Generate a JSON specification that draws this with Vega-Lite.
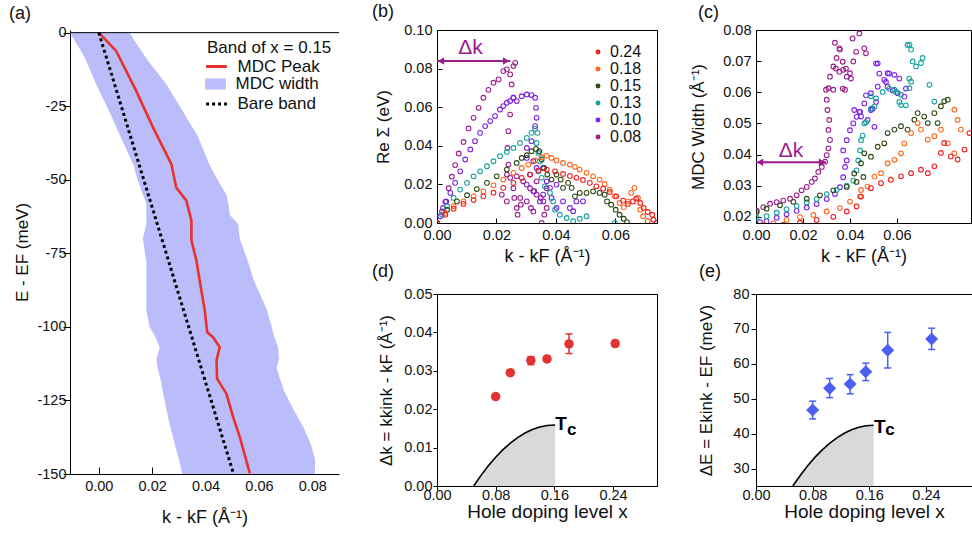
{
"$schema": "https://vega.github.io/schema/vega-lite/v6.json",
"padding": {"left": 9, "top": 2, "right": 0, "bottom": 0},
"background": "white",
"config": {
 "font": "Liberation Sans",
 "view": {"stroke": "#000", "strokeWidth": 1},
 "axis": {"labelFont": "Liberation Sans", "titleFont": "Liberation Sans", "labelFontSize": 14.5, "titleFontSize": 18, "titleFontWeight": "normal", "labelColor": "#111", "titleColor": "#111", "tickColor": "#000", "domainColor": "#000", "grid": false, "labelFlush": false, "labelOverlap": false, "tickCount": 20},
 "legend": {"labelFont": "Liberation Sans", "titleFont": "Liberation Sans", "labelColor": "#111", "titleColor": "#111", "titleFontWeight": "normal", "padding": 0},
 "title": {"font": "Liberation Sans", "fontSize": 18, "fontWeight": "normal", "anchor": "start", "frame": "group", "color": "#111", "baseline": "alphabetic"}
},
"datasets": {
 "band": [
  {"s":"MDC width","E":0,"lo":-0.0108,"hi":0.0115},{"s":"MDC width","E":-5,"lo":-0.0075,"hi":0.015},{"s":"MDC width","E":-9,"lo":-0.005,"hi":0.018},{"s":"MDC width","E":-17.5,"lo":-0.001,"hi":0.0253},{"s":"MDC width","E":-26,"lo":0.0035,"hi":0.031},{"s":"MDC width","E":-35,"lo":0.008,"hi":0.037},{"s":"MDC width","E":-45,"lo":0.013,"hi":0.0415},{"s":"MDC width","E":-50,"lo":0.0145,"hi":0.0445},{"s":"MDC width","E":-55,"lo":0.0165,"hi":0.0478},{"s":"MDC width","E":-58,"lo":0.0178,"hi":0.0485},{"s":"MDC width","E":-62,"lo":0.0178,"hi":0.0491},{"s":"MDC width","E":-65,"lo":0.0178,"hi":0.0522},{"s":"MDC width","E":-70,"lo":0.0165,"hi":0.0528},{"s":"MDC width","E":-78,"lo":0.0178,"hi":0.056},{"s":"MDC width","E":-84,"lo":0.0178,"hi":0.058},{"s":"MDC width","E":-94,"lo":0.0178,"hi":0.0629},{"s":"MDC width","E":-100,"lo":0.019,"hi":0.0648},{"s":"MDC width","E":-103,"lo":0.021,"hi":0.0656},{"s":"MDC width","E":-107,"lo":0.0228,"hi":0.0672},{"s":"MDC width","E":-111,"lo":0.0216,"hi":0.0675},{"s":"MDC width","E":-114,"lo":0.022,"hi":0.0666},{"s":"MDC width","E":-118,"lo":0.0232,"hi":0.068},{"s":"MDC width","E":-122,"lo":0.024,"hi":0.0695},{"s":"MDC width","E":-128,"lo":0.0253,"hi":0.0729},{"s":"MDC width","E":-134,"lo":0.0268,"hi":0.0766},{"s":"MDC width","E":-140,"lo":0.0285,"hi":0.0795},{"s":"MDC width","E":-145,"lo":0.03,"hi":0.081},{"s":"MDC width","E":-150,"lo":0.0313,"hi":0.081}
 ],
 "peak": [
  {"s":"MDC Peak","k":0,"E":0},{"s":"MDC Peak","k":0.0065,"E":-6.2},{"s":"MDC Peak","k":0.014,"E":-19.8},{"s":"MDC Peak","k":0.0203,"E":-32.2},{"s":"MDC Peak","k":0.0272,"E":-44.7},{"s":"MDC Peak","k":0.029,"E":-52.6},{"s":"MDC Peak","k":0.0328,"E":-57.1},{"s":"MDC Peak","k":0.0347,"E":-63.9},{"s":"MDC Peak","k":0.0347,"E":-70.7},{"s":"MDC Peak","k":0.0366,"E":-77.5},{"s":"MDC Peak","k":0.0378,"E":-84.3},{"s":"MDC Peak","k":0.0397,"E":-94.4},{"s":"MDC Peak","k":0.0406,"E":-101.8},{"s":"MDC Peak","k":0.0428,"E":-103.5},{"s":"MDC Peak","k":0.0453,"E":-106.9},{"s":"MDC Peak","k":0.0441,"E":-111.4},{"s":"MDC Peak","k":0.0443,"E":-117.6},{"s":"MDC Peak","k":0.0478,"E":-122.7},{"s":"MDC Peak","k":0.0503,"E":-130.6},{"s":"MDC Peak","k":0.0528,"E":-137.4},{"s":"MDC Peak","k":0.0566,"E":-149.8}
 ],
 "bare": [
  {"s":"Bare band","k":0,"E":0},{"s":"Bare band","k":0.0505,"E":-150}
 ],
 "sigma": [
  {"d":"0.08","k":0,"v":0},{"d":"0.08","k":0.0017,"v":0.006},{"d":"0.08","k":0.0028,"v":0.011},{"d":"0.08","k":0.0039,"v":0.018},{"d":"0.08","k":0.005,"v":0.024},{"d":"0.08","k":0.0061,"v":0.03},{"d":"0.08","k":0.0073,"v":0.036},{"d":"0.08","k":0.0089,"v":0.042},{"d":"0.08","k":0.0106,"v":0.049},{"d":"0.08","k":0.0123,"v":0.0545},{"d":"0.08","k":0.014,"v":0.0597},{"d":"0.08","k":0.0156,"v":0.0649},{"d":"0.08","k":0.0173,"v":0.069},{"d":"0.08","k":0.019,"v":0.0727},{"d":"0.08","k":0.0207,"v":0.0744},{"d":"0.08","k":0.0223,"v":0.0787},{"d":"0.08","k":0.0235,"v":0.0796},{"d":"0.08","k":0.0246,"v":0.077},{"d":"0.08","k":0.0257,"v":0.0813},{"d":"0.08","k":0.0263,"v":0.083},{"d":"0.08","k":0.0251,"v":0.0718},{"d":"0.08","k":0.0257,"v":0.0649},{"d":"0.08","k":0.0246,"v":0.0562},{"d":"0.08","k":0.024,"v":0.0476},{"d":"0.08","k":0.0237,"v":0.0389},{"d":"0.08","k":0.024,"v":0.0303},{"d":"0.08","k":0.0235,"v":0.0251},{"d":"0.08","k":0.0246,"v":0.0234},{"d":"0.08","k":0.0268,"v":0.0242},{"d":"0.08","k":0.0257,"v":0.018},{"d":"0.08","k":0.028,"v":0.013},{"d":"0.08","k":0.0268,"v":0.0078},{"d":"0.08","k":0.0302,"v":0.0112},{"d":"0.08","k":0.0324,"v":0.006},{"d":"0.08","k":0.0313,"v":0.018},{"d":"0.08","k":0.0335,"v":0.0147},{"d":"0.08","k":0.0358,"v":0.0112},{"d":"0.08","k":0.029,"v":0.0216},{"d":"0.08","k":0.0335,"v":0.0216},{"d":"0.08","k":0.0369,"v":0.018},{"d":"0.08","k":0.0369,"v":0.0078},{"d":"0.08","k":0.0352,"v":0},{"d":"0.08","k":0.0235,"v":0.0112},{"d":"0.08","k":0.0218,"v":0.0147},{"d":"0.08","k":0.026,"v":0.013},{"d":"0.08","k":0.0282,"v":0.0095},{"d":"0.08","k":0.0316,"v":0.0078},{"d":"0.08","k":0.0327,"v":0.0165},{"d":"0.08","k":0.0349,"v":0.013},{"d":"0.08","k":0.0361,"v":0.0043},{"d":"0.08","k":0.0271,"v":0.0043},
  {"d":"0.10","k":0,"v":0},{"d":"0.10","k":0.0011,"v":0.0035},{"d":"0.10","k":0.002,"v":0.0078},{"d":"0.10","k":0.0031,"v":0.0112},{"d":"0.10","k":0.0045,"v":0.0156},{"d":"0.10","k":0.0061,"v":0.0208},{"d":"0.10","k":0.0078,"v":0.0268},{"d":"0.10","k":0.0095,"v":0.0329},{"d":"0.10","k":0.0112,"v":0.0381},{"d":"0.10","k":0.0128,"v":0.0424},{"d":"0.10","k":0.0145,"v":0.0467},{"d":"0.10","k":0.0162,"v":0.0502},{"d":"0.10","k":0.0179,"v":0.0528},{"d":"0.10","k":0.0195,"v":0.0554},{"d":"0.10","k":0.0212,"v":0.0588},{"d":"0.10","k":0.0223,"v":0.0606},{"d":"0.10","k":0.0235,"v":0.0623},{"d":"0.10","k":0.0246,"v":0.0632},{"d":"0.10","k":0.0257,"v":0.0649},{"d":"0.10","k":0.0268,"v":0.0632},{"d":"0.10","k":0.0285,"v":0.0657},{"d":"0.10","k":0.0302,"v":0.0666},{"d":"0.10","k":0.0318,"v":0.0663},{"d":"0.10","k":0.033,"v":0.0649},{"d":"0.10","k":0.0333,"v":0.0597},{"d":"0.10","k":0.0335,"v":0.0545},{"d":"0.10","k":0.033,"v":0.0502},{"d":"0.10","k":0.0318,"v":0.0424},{"d":"0.10","k":0.0302,"v":0.0389},{"d":"0.10","k":0.0302,"v":0.0337},{"d":"0.10","k":0.0324,"v":0.032},{"d":"0.10","k":0.0335,"v":0.0285},{"d":"0.10","k":0.0313,"v":0.0251},{"d":"0.10","k":0.0302,"v":0.0199},{"d":"0.10","k":0.0324,"v":0.0164},{"d":"0.10","k":0.0346,"v":0.0112},{"d":"0.10","k":0.0357,"v":0.0147},{"d":"0.10","k":0.038,"v":0.0182},{"d":"0.10","k":0.0402,"v":0.0199},{"d":"0.10","k":0.0424,"v":0.0112},{"d":"0.10","k":0.0447,"v":0.0078},{"d":"0.10","k":0.0469,"v":0.0112},{"d":"0.10","k":0.0491,"v":0.0112},{"d":"0.10","k":0.0458,"v":0.0061},{"d":"0.10","k":0.0402,"v":0.0078},{"d":"0.10","k":0.0385,"v":0.013},{"d":"0.10","k":0.0369,"v":0.0216},{"d":"0.10","k":0.0357,"v":0.0285},
  {"d":"0.13","k":0,"v":0},{"d":"0.13","k":0.0017,"v":0.0043},{"d":"0.13","k":0.0034,"v":0.0087},{"d":"0.13","k":0.0056,"v":0.013},{"d":"0.13","k":0.0078,"v":0.0173},{"d":"0.13","k":0.0101,"v":0.0208},{"d":"0.13","k":0.0123,"v":0.0242},{"d":"0.13","k":0.0145,"v":0.0268},{"d":"0.13","k":0.0168,"v":0.0294},{"d":"0.13","k":0.019,"v":0.032},{"d":"0.13","k":0.0212,"v":0.0346},{"d":"0.13","k":0.0235,"v":0.0368},{"d":"0.13","k":0.0257,"v":0.0389},{"d":"0.13","k":0.0279,"v":0.0415},{"d":"0.13","k":0.0302,"v":0.0441},{"d":"0.13","k":0.0318,"v":0.0467},{"d":"0.13","k":0.033,"v":0.0488},{"d":"0.13","k":0.0338,"v":0.0467},{"d":"0.13","k":0.0335,"v":0.0415},{"d":"0.13","k":0.0341,"v":0.0363},{"d":"0.13","k":0.0346,"v":0.032},{"d":"0.13","k":0.0341,"v":0.0268},{"d":"0.13","k":0.0352,"v":0.0234},{"d":"0.13","k":0.0363,"v":0.019},{"d":"0.13","k":0.038,"v":0.0156},{"d":"0.13","k":0.0391,"v":0.0112},{"d":"0.13","k":0.0397,"v":0.0069},{"d":"0.13","k":0.0413,"v":0.0043},{"d":"0.13","k":0.0436,"v":0.0026},{"d":"0.13","k":0.0458,"v":0.0009},{"d":"0.13","k":0.048,"v":0.0022},{"d":"0.13","k":0.0503,"v":0.0035},{"d":"0.13","k":0.0598,"v":0},
  {"d":"0.15","k":0,"v":0},{"d":"0.15","k":0.0034,"v":0.0069},{"d":"0.15","k":0.0067,"v":0.0112},{"d":"0.15","k":0.0101,"v":0.0144},{"d":"0.15","k":0.0134,"v":0.0176},{"d":"0.15","k":0.0168,"v":0.0208},{"d":"0.15","k":0.0201,"v":0.0242},{"d":"0.15","k":0.0235,"v":0.0277},{"d":"0.15","k":0.0268,"v":0.0311},{"d":"0.15","k":0.0285,"v":0.0337},{"d":"0.15","k":0.0302,"v":0.0351},{"d":"0.15","k":0.0318,"v":0.0372},{"d":"0.15","k":0.0333,"v":0.0384},{"d":"0.15","k":0.0344,"v":0.0372},{"d":"0.15","k":0.0352,"v":0.0329},{"d":"0.15","k":0.036,"v":0.0285},{"d":"0.15","k":0.0371,"v":0.0251},{"d":"0.15","k":0.0385,"v":0.0225},{"d":"0.15","k":0.0402,"v":0.0251},{"d":"0.15","k":0.0416,"v":0.0225},{"d":"0.15","k":0.0424,"v":0.0182},{"d":"0.15","k":0.0441,"v":0.0208},{"d":"0.15","k":0.0453,"v":0.0182},{"d":"0.15","k":0.0464,"v":0.0138},{"d":"0.15","k":0.048,"v":0.0156},{"d":"0.15","k":0.0503,"v":0.0156},{"d":"0.15","k":0.0525,"v":0.0164},{"d":"0.15","k":0.0547,"v":0.0156},{"d":"0.15","k":0.0564,"v":0.0147},{"d":"0.15","k":0.0572,"v":0.0112},{"d":"0.15","k":0.0586,"v":0.0095},{"d":"0.15","k":0.0601,"v":0.0069},{"d":"0.15","k":0.0614,"v":0.0043},{"d":"0.15","k":0.0628,"v":0.0022},{"d":"0.15","k":0.0639,"v":0.0005},
  {"d":"0.18","k":0,"v":0},{"d":"0.18","k":0.0028,"v":0.0052},{"d":"0.18","k":0.0056,"v":0.0087},{"d":"0.18","k":0.0089,"v":0.0112},{"d":"0.18","k":0.0123,"v":0.0138},{"d":"0.18","k":0.0156,"v":0.0164},{"d":"0.18","k":0.019,"v":0.0195},{"d":"0.18","k":0.0223,"v":0.0225},{"d":"0.18","k":0.0257,"v":0.026},{"d":"0.18","k":0.0285,"v":0.0285},{"d":"0.18","k":0.0307,"v":0.0303},{"d":"0.18","k":0.033,"v":0.0324},{"d":"0.18","k":0.0352,"v":0.0341},{"d":"0.18","k":0.0369,"v":0.0349},{"d":"0.18","k":0.0385,"v":0.0337},{"d":"0.18","k":0.0402,"v":0.0324},{"d":"0.18","k":0.0424,"v":0.0311},{"d":"0.18","k":0.0447,"v":0.0303},{"d":"0.18","k":0.0464,"v":0.0291},{"d":"0.18","k":0.048,"v":0.0277},{"d":"0.18","k":0.0503,"v":0.026},{"d":"0.18","k":0.0525,"v":0.0242},{"d":"0.18","k":0.0547,"v":0.0225},{"d":"0.18","k":0.0564,"v":0.0202},{"d":"0.18","k":0.0581,"v":0.0173},{"d":"0.18","k":0.0598,"v":0.0138},{"d":"0.18","k":0.0614,"v":0.0104},{"d":"0.18","k":0.0628,"v":0.0081},{"d":"0.18","k":0.0642,"v":0.0112},{"d":"0.18","k":0.0653,"v":0.0156},{"d":"0.18","k":0.0664,"v":0.0182},{"d":"0.18","k":0.0676,"v":0.013},{"d":"0.18","k":0.0684,"v":0.0069},{"d":"0.18","k":0.0693,"v":0.0035},{"d":"0.18","k":0.0709,"v":0.0009},
  {"d":"0.24","k":0,"v":0},{"d":"0.24","k":0.0028,"v":0.0043},{"d":"0.24","k":0.0056,"v":0.0074},{"d":"0.24","k":0.0089,"v":0.0099},{"d":"0.24","k":0.0123,"v":0.0119},{"d":"0.24","k":0.0156,"v":0.0138},{"d":"0.24","k":0.019,"v":0.0157},{"d":"0.24","k":0.0223,"v":0.0182},{"d":"0.24","k":0.0257,"v":0.0208},{"d":"0.24","k":0.0285,"v":0.0234},{"d":"0.24","k":0.0313,"v":0.0251},{"d":"0.24","k":0.0341,"v":0.0272},{"d":"0.24","k":0.0369,"v":0.0277},{"d":"0.24","k":0.0397,"v":0.0268},{"d":"0.24","k":0.0424,"v":0.0254},{"d":"0.24","k":0.0447,"v":0.0244},{"d":"0.24","k":0.0469,"v":0.0234},{"d":"0.24","k":0.0491,"v":0.0223},{"d":"0.24","k":0.0514,"v":0.0208},{"d":"0.24","k":0.0536,"v":0.019},{"d":"0.24","k":0.0559,"v":0.0178},{"d":"0.24","k":0.0581,"v":0.0161},{"d":"0.24","k":0.0603,"v":0.0138},{"d":"0.24","k":0.0626,"v":0.0116},{"d":"0.24","k":0.0642,"v":0.0099},{"d":"0.24","k":0.0659,"v":0.0112},{"d":"0.24","k":0.067,"v":0.0126},{"d":"0.24","k":0.0684,"v":0.0104},{"d":"0.24","k":0.0695,"v":0.0078},{"d":"0.24","k":0.0709,"v":0.0057},{"d":"0.24","k":0.0724,"v":0.0043},{"d":"0.24","k":0.0728,"v":0.0017},{"d":"0.24","k":0.0739,"v":0}
 ],
 "mdcw": [
  {"d":"0.08","k":0.0003,"w":0.022},{"d":"0.08","k":0.0031,"w":0.0231},{"d":"0.08","k":0.006,"w":0.0242},{"d":"0.08","k":0.0088,"w":0.0247},{"d":"0.08","k":0.0116,"w":0.0252},{"d":"0.08","k":0.0145,"w":0.0258},{"d":"0.08","k":0.0173,"w":0.0269},{"d":"0.08","k":0.0194,"w":0.0285},{"d":"0.08","k":0.0216,"w":0.0296},{"d":"0.08","k":0.0237,"w":0.0312},{"d":"0.08","k":0.0251,"w":0.0323},{"d":"0.08","k":0.0265,"w":0.0344},{"d":"0.08","k":0.028,"w":0.036},{"d":"0.08","k":0.0294,"w":0.0377},{"d":"0.08","k":0.0301,"w":0.0398},{"d":"0.08","k":0.0308,"w":0.042},{"d":"0.08","k":0.0315,"w":0.0447},{"d":"0.08","k":0.0308,"w":0.0479},{"d":"0.08","k":0.0312,"w":0.0511},{"d":"0.08","k":0.0304,"w":0.0543},{"d":"0.08","k":0.0301,"w":0.0576},{"d":"0.08","k":0.0298,"w":0.0608},{"d":"0.08","k":0.0308,"w":0.0613},{"d":"0.08","k":0.0329,"w":0.0608},{"d":"0.08","k":0.0315,"w":0.065},{"d":"0.08","k":0.0329,"w":0.0683},{"d":"0.08","k":0.0343,"w":0.071},{"d":"0.08","k":0.0371,"w":0.0672},{"d":"0.08","k":0.0386,"w":0.065},{"d":"0.08","k":0.0379,"w":0.0608},{"d":"0.08","k":0.0414,"w":0.0699},{"d":"0.08","k":0.04,"w":0.0661},{"d":"0.08","k":0.0336,"w":0.0759},{"d":"0.08","k":0.0357,"w":0.0737},{"d":"0.08","k":0.0355,"w":0.0741},{"d":"0.08","k":0.0411,"w":0.0773},{"d":"0.08","k":0.044,"w":0.0789},{"d":"0.08","k":0.0461,"w":0.0741},{"d":"0.08","k":0.0468,"w":0.0725},{"d":"0.08","k":0.0426,"w":0.073},{"d":"0.08","k":0.0369,"w":0.0698},{"d":"0.08","k":0.0383,"w":0.0676},{"d":"0.08","k":0.034,"w":0.0676},{"d":"0.08","k":0.0404,"w":0.0644},{"d":"0.08","k":0.0369,"w":0.0612},{"d":"0.08","k":0.0355,"w":0.0666},
  {"d":"0.10","k":0.0017,"w":0.0183},{"d":"0.10","k":0.0045,"w":0.0186},{"d":"0.10","k":0.0088,"w":0.0197},{"d":"0.10","k":0.013,"w":0.0208},{"d":"0.10","k":0.0173,"w":0.0219},{"d":"0.10","k":0.0216,"w":0.023},{"d":"0.10","k":0.0258,"w":0.0241},{"d":"0.10","k":0.0301,"w":0.0257},{"d":"0.10","k":0.0336,"w":0.0273},{"d":"0.10","k":0.0357,"w":0.0295},{"d":"0.10","k":0.0371,"w":0.0327},{"d":"0.10","k":0.0379,"w":0.036},{"d":"0.10","k":0.0386,"w":0.0381},{"d":"0.10","k":0.0371,"w":0.0413},{"d":"0.10","k":0.0386,"w":0.0446},{"d":"0.10","k":0.04,"w":0.0478},{"d":"0.10","k":0.0414,"w":0.05},{"d":"0.10","k":0.0428,"w":0.0521},{"d":"0.10","k":0.0443,"w":0.0537},{"d":"0.10","k":0.0418,"w":0.0543},{"d":"0.10","k":0.0447,"w":0.0522},{"d":"0.10","k":0.0475,"w":0.0511},{"d":"0.10","k":0.0489,"w":0.0543},{"d":"0.10","k":0.0504,"w":0.0489},{"d":"0.10","k":0.0461,"w":0.0564},{"d":"0.10","k":0.0489,"w":0.0597},{"d":"0.10","k":0.0518,"w":0.0618},{"d":"0.10","k":0.0546,"w":0.064},{"d":"0.10","k":0.056,"w":0.0618},{"d":"0.10","k":0.0589,"w":0.0656},{"d":"0.10","k":0.0603,"w":0.0597},{"d":"0.10","k":0.0518,"w":0.0693},{"d":"0.10","k":0.056,"w":0.0661},{"d":"0.10","k":0.0631,"w":0.0586},{"d":"0.10","k":0.0511,"w":0.0692},{"d":"0.10","k":0.0525,"w":0.066},{"d":"0.10","k":0.0567,"w":0.066},{"d":"0.10","k":0.0553,"w":0.0633},{"d":"0.10","k":0.061,"w":0.0644},{"d":"0.10","k":0.0582,"w":0.0606},{"d":"0.10","k":0.0638,"w":0.0612},{"d":"0.10","k":0.0511,"w":0.0569},{"d":"0.10","k":0.0468,"w":0.059},{"d":"0.10","k":0.044,"w":0.0537},{"d":"0.10","k":0.0496,"w":0.0547},
  {"d":"0.13","k":0.0003,"w":0.0197},{"d":"0.13","k":0.0045,"w":0.0202},{"d":"0.13","k":0.0088,"w":0.0213},{"d":"0.13","k":0.013,"w":0.0224},{"d":"0.13","k":0.0173,"w":0.0235},{"d":"0.13","k":0.0216,"w":0.0246},{"d":"0.13","k":0.0258,"w":0.0257},{"d":"0.13","k":0.0301,"w":0.0273},{"d":"0.13","k":0.0343,"w":0.0286},{"d":"0.13","k":0.0386,"w":0.03},{"d":"0.13","k":0.0414,"w":0.0316},{"d":"0.13","k":0.0428,"w":0.0349},{"d":"0.13","k":0.0435,"w":0.0381},{"d":"0.13","k":0.0443,"w":0.0413},{"d":"0.13","k":0.0454,"w":0.0461},{"d":"0.13","k":0.0468,"w":0.0504},{"d":"0.13","k":0.0489,"w":0.0547},{"d":"0.13","k":0.0511,"w":0.058},{"d":"0.13","k":0.0539,"w":0.0601},{"d":"0.13","k":0.0567,"w":0.0612},{"d":"0.13","k":0.0596,"w":0.0601},{"d":"0.13","k":0.061,"w":0.0569},{"d":"0.13","k":0.0638,"w":0.0558},{"d":"0.13","k":0.0652,"w":0.0644},{"d":"0.13","k":0.0645,"w":0.0752},{"d":"0.13","k":0.0653,"w":0.0753},{"d":"0.13","k":0.066,"w":0.0737},{"d":"0.13","k":0.0667,"w":0.0699},{"d":"0.13","k":0.0681,"w":0.0683},{"d":"0.13","k":0.0702,"w":0.0694},{"d":"0.13","k":0.0709,"w":0.071},{"d":"0.13","k":0.066,"w":0.0634},{"d":"0.13","k":0.0653,"w":0.0613},{"d":"0.13","k":0.0738,"w":0.0624},{"d":"0.13","k":0.0759,"w":0.057},{"d":"0.13","k":0.0617,"w":0.0592},{"d":"0.13","k":0.0617,"w":0.0559},{"d":"0.13","k":0.0589,"w":0.0608},{"d":"0.13","k":0.0489,"w":0.0587},{"d":"0.13","k":0.0504,"w":0.0554},{"d":"0.13","k":0.0461,"w":0.05},{"d":"0.13","k":0.0447,"w":0.0446},
  {"d":"0.15","k":0.0003,"w":0.0215},{"d":"0.15","k":0.0045,"w":0.0226},{"d":"0.15","k":0.0102,"w":0.0237},{"d":"0.15","k":0.0159,"w":0.0248},{"d":"0.15","k":0.0216,"w":0.0258},{"d":"0.15","k":0.0272,"w":0.0269},{"d":"0.15","k":0.0329,"w":0.0285},{"d":"0.15","k":0.0386,"w":0.0296},{"d":"0.15","k":0.0418,"w":0.0339},{"d":"0.15","k":0.0428,"w":0.0312},{"d":"0.15","k":0.0447,"w":0.0372},{"d":"0.15","k":0.0457,"w":0.0328},{"d":"0.15","k":0.0461,"w":0.0404},{"d":"0.15","k":0.0489,"w":0.0393},{"d":"0.15","k":0.0518,"w":0.0425},{"d":"0.15","k":0.0546,"w":0.0436},{"d":"0.15","k":0.056,"w":0.0469},{"d":"0.15","k":0.0589,"w":0.048},{"d":"0.15","k":0.0617,"w":0.0491},{"d":"0.15","k":0.0645,"w":0.048},{"d":"0.15","k":0.0674,"w":0.0512},{"d":"0.15","k":0.0688,"w":0.0533},{"d":"0.15","k":0.0716,"w":0.0522},{"d":"0.15","k":0.0731,"w":0.0501},{"d":"0.15","k":0.0759,"w":0.0533},{"d":"0.15","k":0.0787,"w":0.0555},{"d":"0.15","k":0.0801,"w":0.0571},{"d":"0.15","k":0.0816,"w":0.0576},{"d":"0.15","k":0.0773,"w":0.0501},
  {"d":"0.18","k":0.0031,"w":0.0174},{"d":"0.18","k":0.0074,"w":0.0179},{"d":"0.18","k":0.013,"w":0.019},{"d":"0.18","k":0.0187,"w":0.0199},{"d":"0.18","k":0.0244,"w":0.0206},{"d":"0.18","k":0.0301,"w":0.0217},{"d":"0.18","k":0.0357,"w":0.0228},{"d":"0.18","k":0.04,"w":0.0249},{"d":"0.18","k":0.0443,"w":0.0265},{"d":"0.18","k":0.0447,"w":0.0286},{"d":"0.18","k":0.0475,"w":0.0297},{"d":"0.18","k":0.0504,"w":0.0329},{"d":"0.18","k":0.0532,"w":0.034},{"d":"0.18","k":0.056,"w":0.0372},{"d":"0.18","k":0.0589,"w":0.0383},{"d":"0.18","k":0.0617,"w":0.0404},{"d":"0.18","k":0.0631,"w":0.0436},{"d":"0.18","k":0.066,"w":0.0469},{"d":"0.18","k":0.0688,"w":0.0501},{"d":"0.18","k":0.0702,"w":0.048},{"d":"0.18","k":0.0731,"w":0.0448},{"d":"0.18","k":0.0759,"w":0.0459},{"d":"0.18","k":0.0787,"w":0.048},{"d":"0.18","k":0.0816,"w":0.0436},{"d":"0.18","k":0.0844,"w":0.0544},{"d":"0.18","k":0.0858,"w":0.0511},{"d":"0.18","k":0.0872,"w":0.048},{"d":"0.18","k":0.0844,"w":0.0404},
  {"d":"0.24","k":0.0045,"w":0.0168},{"d":"0.24","k":0.0116,"w":0.0174},{"d":"0.24","k":0.0187,"w":0.0181},{"d":"0.24","k":0.0258,"w":0.019},{"d":"0.24","k":0.0329,"w":0.02},{"d":"0.24","k":0.0386,"w":0.0217},{"d":"0.24","k":0.0428,"w":0.0233},{"d":"0.24","k":0.0447,"w":0.0265},{"d":"0.24","k":0.0489,"w":0.0292},{"d":"0.24","k":0.0532,"w":0.0308},{"d":"0.24","k":0.0574,"w":0.0319},{"d":"0.24","k":0.0617,"w":0.033},{"d":"0.24","k":0.066,"w":0.034},{"d":"0.24","k":0.0702,"w":0.0351},{"d":"0.24","k":0.0731,"w":0.034},{"d":"0.24","k":0.0759,"w":0.0362},{"d":"0.24","k":0.0787,"w":0.0405},{"d":"0.24","k":0.0801,"w":0.0437},{"d":"0.24","k":0.0829,"w":0.0394},{"d":"0.24","k":0.0858,"w":0.0384},{"d":"0.24","k":0.0887,"w":0.0416},{"d":"0.24","k":0.0908,"w":0.0469}
 ],
 "arrowb": [{"k0":0,"k1":0.0246,"v":0.0839}],
 "labelb": [{"k":0.0113,"v":0.0874,"t":"Δk"}],
 "arrowc": [{"k0":0,"k1":0.0298,"v":0.0375}],
 "labelc": [{"k":0.0149,"v":0.0391,"t":"Δk"}],
 "dk": [
  {"x":0.08,"y":0.0233,"lo":0.0228,"hi":0.0238},{"x":0.1,"y":0.0295,"lo":0.0288,"hi":0.0302},{"x":0.128,"y":0.0327,"lo":0.0316,"hi":0.0337},{"x":0.15,"y":0.0331,"lo":0.0325,"hi":0.0337},{"x":0.18,"y":0.037,"lo":0.0345,"hi":0.0396},{"x":0.243,"y":0.0371,"lo":0.0364,"hi":0.0379}
 ],
 "de": [
  {"x":0.08,"y":46.8,"lo":44.2,"hi":49.3},{"x":0.104,"y":53.0,"lo":50.3,"hi":55.8},{"x":0.133,"y":54.2,"lo":51.4,"hi":56.9},{"x":0.155,"y":57.7,"lo":55.2,"hi":60.2},{"x":0.186,"y":63.9,"lo":58.8,"hi":69.0},{"x":0.248,"y":67.1,"lo":64.1,"hi":70.2}
 ],
 "tcd": [
  {"x":0.05,"y":0},{"x":0.06,"y":0.00277},{"x":0.07,"y":0.00527},{"x":0.08,"y":0.0075},{"x":0.09,"y":0.00947},{"x":0.1,"y":0.01117},{"x":0.11,"y":0.01262},{"x":0.12,"y":0.0138},{"x":0.13,"y":0.01472},{"x":0.14,"y":0.01538},{"x":0.15,"y":0.01577},{"x":0.161,"y":0.0159}
 ],
 "tce": [
  {"x":0.052,"y":25},{"x":0.0624,"y":28.03},{"x":0.0727,"y":30.76},{"x":0.0831,"y":33.2},{"x":0.0935,"y":35.36},{"x":0.1038,"y":37.23},{"x":0.1142,"y":38.81},{"x":0.1246,"y":40.1},{"x":0.1349,"y":41.11},{"x":0.1453,"y":41.83},{"x":0.1556,"y":42.26},{"x":0.166,"y":42.4}
 ],
 "tcdT": [{"x":0.1612,"y":0.0147,"t":"T"}],
 "tcdc": [{"x":0.1772,"y":0.0133,"t":"c"}],
 "tceT": [{"x":0.1665,"y":40.2,"t":"T"}],
 "tcec": [{"x":0.1825,"y":39.6,"t":"c"}]
},
"bounds": "full",
"spacing": 31,
"resolve": {"scale": {"color": "independent", "fill": "independent", "strokeDash": "independent"}, "legend": {"color": "independent", "fill": "independent", "strokeDash": "independent"}},
"hconcat": [
 {
  "width": 269, "height": 444,
  "view": {"stroke": null},
  "title": {"text": "(a)", "dx": -61, "offset": 2},
  "layer": [
   {"data": {"name": "band"},
    "mark": {"type": "area", "orient": "horizontal", "opacity": 1, "clip": true},
    "encoding": {
     "y": {"field": "E", "type": "quantitative", "scale": {"domain": [-150, 0.9], "nice": false},
           "axis": {"values": [0, -25, -50, -75, -100, -125, -150], "labelExpr": "replace(datum.label, '−', '-')", "tickCount": 20, "labelOverlap": false, "tickSize": 7, "labelPadding": -3, "title": "E - EF (meV)", "titlePadding": 5, "titleFontSize": 17}},
     "x": {"field": "lo", "type": "quantitative", "scale": {"domain": [-0.0108, 0.09], "nice": false},
           "axis": {"values": [0, 0.02, 0.04, 0.06, 0.08], "format": ".2f", "tickCount": 20, "labelOverlap": false, "tickSize": -7, "labelPadding": 12, "title": "k - kF (Å⁻¹)", "titlePadding": 16}},
     "x2": {"field": "hi"},
     "fill": {"field": "s", "type": "nominal",
       "scale": {"domain": ["MDC width"], "range": ["#babdfa"]},
       "legend": {"orient": "none", "legendX": 137, "legendY": 45.5, "title": null, "labelFontSize": 17, "symbolType": "M-1.3,-0.69H1.3V0.69H-1.3Z", "symbolSize": 256, "symbolStrokeWidth": 0, "symbolOpacity": 1, "labelOffset": 11.5}}
    }},
   {"data": {"name": "peak"},
    "mark": {"type": "line", "strokeWidth": 2.6},
    "encoding": {"x": {"field": "k", "type": "quantitative"}, "y": {"field": "E", "type": "quantitative"}, "order": {"field": "E", "sort": "descending"},
      "color": {"field": "s", "type": "nominal",
        "scale": {"domain": ["MDC Peak"], "range": ["#e8302f"]},
        "legend": {"orient": "none", "legendX": 137, "legendY": 10, "title": "Band of x = 0.15", "titleFontSize": 17, "titlePadding": 0, "labelFontSize": 17, "symbolType": "M-1.3,0H1.3", "symbolSize": 256, "symbolStrokeWidth": 3, "symbolOpacity": 1, "labelOffset": 11.5}}}},
   {"data": {"name": "bare"},
    "mark": {"type": "line", "strokeWidth": 3, "color": "#000000"},
    "encoding": {"x": {"field": "k", "type": "quantitative"}, "y": {"field": "E", "type": "quantitative"}, "order": {"field": "E", "sort": "descending"},
      "strokeDash": {"field": "s", "type": "nominal",
        "scale": {"domain": ["Bare band"], "range": [[3, 3]]},
        "legend": {"orient": "none", "legendX": 137, "legendY": 64.5, "title": null, "labelFontSize": 17, "symbolType": "M-1.3,0H1.3", "symbolSize": 256, "symbolStrokeWidth": 3, "symbolStrokeColor": "#000000", "symbolOpacity": 1, "labelOffset": 11.5}}}},
   {"data": {"values": [{}]},
    "mark": {"type": "rule", "color": "#000", "strokeWidth": 1},
    "encoding": {"y": {"datum": 0}}}
  ]
 },
 {
  "bounds": "full",
  "spacing": -4,
  "resolve": {"scale": {"color": "independent"}, "legend": {"color": "independent"}},
  "vconcat": [
   {
    "bounds": "flush",
    "spacing": 99,
    "resolve": {"scale": {"color": "independent"}, "legend": {"color": "independent"}},
    "hconcat": [
     {
      "width": 220, "height": 193,
      "title": {"text": "(b)", "dx": -65, "offset": 0.7},
      "layer": [
       {"data": {"name": "sigma"},
        "mark": {"type": "point", "shape": "circle", "filled": false, "size": 22, "strokeWidth": 1.1, "opacity": 1, "clip": true},
        "encoding": {
         "x": {"field": "k", "type": "quantitative", "scale": {"domain": [0, 0.074], "nice": false},
               "axis": {"values": [0, 0.02, 0.04, 0.06], "format": ".2f", "tickCount": 20, "labelOverlap": false, "tickSize": -5, "labelPadding": 10, "title": "k - kF (Å⁻¹)", "titlePadding": 6}},
         "y": {"field": "v", "type": "quantitative", "scale": {"domain": [0, 0.1], "nice": false},
               "axis": {"values": [0, 0.02, 0.04, 0.06, 0.08, 0.1], "format": ".2f", "tickCount": 20, "labelOverlap": false, "tickSize": -5, "labelPadding": 10, "title": "Re Σ (eV)", "titlePadding": 11, "titleFontSize": 17}},
         "color": {"field": "d", "type": "nominal",
           "scale": {"domain": ["0.24", "0.18", "0.15", "0.13", "0.10", "0.08"], "range": ["#ee1c1c", "#ff6418", "#2b4710", "#16a0a0", "#7b1fe6", "#9c1b8c"]},
           "legend": {"orient": "none", "legendX": 153, "legendY": 14, "title": null, "symbolType": "circle", "symbolSize": 5, "symbolStrokeWidth": 2.7, "symbolOpacity": 1, "labelFontSize": 16, "labelOffset": 4, "rowPadding": 1}}
        }},
       {"data": {"name": "arrowb"},
        "mark": {"type": "rule", "color": "#9c1b8c", "strokeWidth": 2},
        "encoding": {"x": {"field": "k0", "type": "quantitative"}, "x2": {"field": "k1"}, "y": {"field": "v", "type": "quantitative"}}},
       {"data": {"name": "arrowb"},
        "mark": {"type": "point", "shape": "triangle-left", "filled": true, "size": 55, "color": "#9c1b8c", "opacity": 1, "xOffset": 4},
        "encoding": {"x": {"field": "k0", "type": "quantitative"}, "y": {"field": "v", "type": "quantitative"}}},
       {"data": {"name": "arrowb"},
        "mark": {"type": "point", "shape": "triangle-right", "filled": true, "size": 55, "color": "#9c1b8c", "opacity": 1, "xOffset": -4},
        "encoding": {"x": {"field": "k1", "type": "quantitative"}, "y": {"field": "v", "type": "quantitative"}}},
       {"data": {"name": "labelb"},
        "mark": {"type": "text", "font": "Liberation Sans", "fontSize": 21, "color": "#9c1b8c", "align": "center", "baseline": "alphabetic"},
        "encoding": {"x": {"field": "k", "type": "quantitative"}, "y": {"field": "v", "type": "quantitative"}, "text": {"field": "t"}}}
      ]
     },
     {
      "width": 215, "height": 193,
      "title": {"text": "(c)", "dx": -58, "offset": 0},
      "layer": [
       {"data": {"name": "mdcw"},
        "mark": {"type": "point", "shape": "circle", "filled": false, "size": 22, "strokeWidth": 1.1, "opacity": 1, "clip": true},
        "encoding": {
         "x": {"field": "k", "type": "quantitative", "scale": {"domain": [0, 0.0915], "nice": false},
               "axis": {"values": [0, 0.02, 0.04, 0.06], "format": ".2f", "tickCount": 20, "labelOverlap": false, "tickSize": -5, "labelPadding": 10, "title": "k - kF (Å⁻¹)", "titlePadding": 6}},
         "y": {"field": "w", "type": "quantitative", "scale": {"domain": [0.018, 0.08], "nice": false, "zero": false},
               "axis": {"values": [0.02, 0.03, 0.04, 0.05, 0.06, 0.07, 0.08], "format": ".2f", "tickCount": 20, "labelOverlap": false, "tickSize": -5, "labelPadding": 10, "title": "MDC Width (Å⁻¹)", "titlePadding": 15, "titleFontSize": 17}},
         "color": {"field": "d", "type": "nominal",
           "scale": {"domain": ["0.24", "0.18", "0.15", "0.13", "0.10", "0.08"], "range": ["#ee1c1c", "#ff6418", "#2b4710", "#16a0a0", "#7b1fe6", "#9c1b8c"]},
           "legend": null}
        }},
       {"data": {"name": "arrowc"},
        "mark": {"type": "rule", "color": "#9c1b8c", "strokeWidth": 2},
        "encoding": {"x": {"field": "k0", "type": "quantitative"}, "x2": {"field": "k1"}, "y": {"field": "v", "type": "quantitative"}}},
       {"data": {"name": "arrowc"},
        "mark": {"type": "point", "shape": "triangle-left", "filled": true, "size": 55, "color": "#9c1b8c", "opacity": 1, "xOffset": 4},
        "encoding": {"x": {"field": "k0", "type": "quantitative"}, "y": {"field": "v", "type": "quantitative"}}},
       {"data": {"name": "arrowc"},
        "mark": {"type": "point", "shape": "triangle-right", "filled": true, "size": 55, "color": "#9c1b8c", "opacity": 1, "xOffset": -4},
        "encoding": {"x": {"field": "k1", "type": "quantitative"}, "y": {"field": "v", "type": "quantitative"}}},
       {"data": {"name": "labelc"},
        "mark": {"type": "text", "font": "Liberation Sans", "fontSize": 21, "color": "#9c1b8c", "align": "center", "baseline": "alphabetic"},
        "encoding": {"x": {"field": "k", "type": "quantitative"}, "y": {"field": "v", "type": "quantitative"}, "text": {"field": "t"}}}
      ]
     }
    ]
   },
   {
    "bounds": "flush",
    "spacing": 99,
    "hconcat": [
     {
      "width": 220, "height": 192,
      "title": {"text": "(d)", "dx": -65, "offset": 5},
      "layer": [
       {"data": {"name": "tcd"},
        "mark": {"type": "area", "color": "#d9d9d9", "opacity": 1},
        "encoding": {
         "x": {"field": "x", "type": "quantitative", "scale": {"domain": [0, 0.3], "nice": false},
               "axis": {"values": [0, 0.08, 0.16, 0.24], "format": ".2f", "tickCount": 20, "labelOverlap": false, "tickSize": 4, "labelPadding": -2, "title": "Hole doping level x", "titlePadding": 1, "titleFontSize": 19}},
         "y": {"field": "y", "type": "quantitative", "scale": {"domain": [0, 0.05], "nice": false},
               "axis": {"values": [0, 0.01, 0.02, 0.03, 0.04, 0.05], "format": ".2f", "tickCount": 20, "labelOverlap": false, "tickSize": 4, "labelPadding": 1, "title": "Δk = kkink - kF (Å⁻¹)", "titlePadding": 8, "titleFontSize": 17}}
        }},
       {"data": {"name": "tcd"},
        "mark": {"type": "line", "color": "#000", "strokeWidth": 1.6},
        "encoding": {"x": {"field": "x", "type": "quantitative"}, "y": {"field": "y", "type": "quantitative"}}},
       {"data": {"name": "dk"},
        "mark": {"type": "rule", "color": "#e23232", "strokeWidth": 1.5},
        "encoding": {"x": {"field": "x", "type": "quantitative"}, "y": {"field": "lo", "type": "quantitative"}, "y2": {"field": "hi"}}},
       {"data": {"name": "dk"},
        "mark": {"type": "tick", "orient": "horizontal", "color": "#e23232", "size": 7, "thickness": 1.5, "opacity": 1},
        "encoding": {"x": {"field": "x", "type": "quantitative"}, "y": {"field": "lo", "type": "quantitative"}}},
       {"data": {"name": "dk"},
        "mark": {"type": "tick", "orient": "horizontal", "color": "#e23232", "size": 7, "thickness": 1.5, "opacity": 1},
        "encoding": {"x": {"field": "x", "type": "quantitative"}, "y": {"field": "hi", "type": "quantitative"}}},
       {"data": {"name": "dk"},
        "mark": {"type": "point", "shape": "circle", "filled": true, "size": 90, "color": "#e23232", "opacity": 1},
        "encoding": {"x": {"field": "x", "type": "quantitative"}, "y": {"field": "y", "type": "quantitative"}}},
       {"data": {"name": "tcdT"},
        "mark": {"type": "text", "font": "Liberation Sans", "fontSize": 19, "fontWeight": "bold", "color": "#000", "align": "left", "baseline": "alphabetic"},
        "encoding": {"x": {"field": "x", "type": "quantitative"}, "y": {"field": "y", "type": "quantitative"}, "text": {"field": "t"}}},
       {"data": {"name": "tcdc"},
        "mark": {"type": "text", "font": "Liberation Sans", "fontSize": 17, "fontWeight": "bold", "color": "#000", "align": "left", "baseline": "alphabetic"},
        "encoding": {"x": {"field": "x", "type": "quantitative"}, "y": {"field": "y", "type": "quantitative"}, "text": {"field": "t"}}}
      ]
     },
     {
      "width": 216, "height": 192,
      "title": {"text": "(e)", "dx": -57, "offset": 5},
      "layer": [
       {"data": {"name": "tce"},
        "mark": {"type": "area", "color": "#d9d9d9", "opacity": 1},
        "encoding": {
         "x": {"field": "x", "type": "quantitative", "scale": {"domain": [0, 0.305], "nice": false},
               "axis": {"values": [0, 0.08, 0.16, 0.24], "format": ".2f", "tickCount": 20, "labelOverlap": false, "tickSize": 4, "labelPadding": -2, "title": "Hole doping level x", "titlePadding": 1, "titleFontSize": 19}},
         "y": {"field": "y", "type": "quantitative", "scale": {"domain": [25, 80], "nice": false, "zero": false},
               "axis": {"values": [30, 40, 50, 60, 70, 80], "tickCount": 20, "labelOverlap": false, "tickSize": 5, "labelPadding": 2, "title": "ΔE = Ekink - EF (meV)", "titlePadding": 17, "titleFontSize": 17}},
         "y2": {"datum": 25}
        }},
       {"data": {"name": "tce"},
        "mark": {"type": "line", "color": "#000", "strokeWidth": 1.6},
        "encoding": {"x": {"field": "x", "type": "quantitative"}, "y": {"field": "y", "type": "quantitative"}}},
       {"data": {"name": "de"},
        "mark": {"type": "rule", "color": "#4b5ff2", "strokeWidth": 1.5},
        "encoding": {"x": {"field": "x", "type": "quantitative"}, "y": {"field": "lo", "type": "quantitative"}, "y2": {"field": "hi"}}},
       {"data": {"name": "de"},
        "mark": {"type": "tick", "orient": "horizontal", "color": "#4b5ff2", "size": 7, "thickness": 1.5, "opacity": 1},
        "encoding": {"x": {"field": "x", "type": "quantitative"}, "y": {"field": "lo", "type": "quantitative"}}},
       {"data": {"name": "de"},
        "mark": {"type": "tick", "orient": "horizontal", "color": "#4b5ff2", "size": 7, "thickness": 1.5, "opacity": 1},
        "encoding": {"x": {"field": "x", "type": "quantitative"}, "y": {"field": "hi", "type": "quantitative"}}},
       {"data": {"name": "de"},
        "mark": {"type": "point", "shape": "diamond", "filled": true, "size": 170, "color": "#4b5ff2", "opacity": 1},
        "encoding": {"x": {"field": "x", "type": "quantitative"}, "y": {"field": "y", "type": "quantitative"}}},
       {"data": {"name": "tceT"},
        "mark": {"type": "text", "font": "Liberation Sans", "fontSize": 19, "fontWeight": "bold", "color": "#000", "align": "left", "baseline": "alphabetic"},
        "encoding": {"x": {"field": "x", "type": "quantitative"}, "y": {"field": "y", "type": "quantitative"}, "text": {"field": "t"}}},
       {"data": {"name": "tcec"},
        "mark": {"type": "text", "font": "Liberation Sans", "fontSize": 17, "fontWeight": "bold", "color": "#000", "align": "left", "baseline": "alphabetic"},
        "encoding": {"x": {"field": "x", "type": "quantitative"}, "y": {"field": "y", "type": "quantitative"}, "text": {"field": "t"}}}
      ]
     }
    ]
   }
  ]
 }
]
}
